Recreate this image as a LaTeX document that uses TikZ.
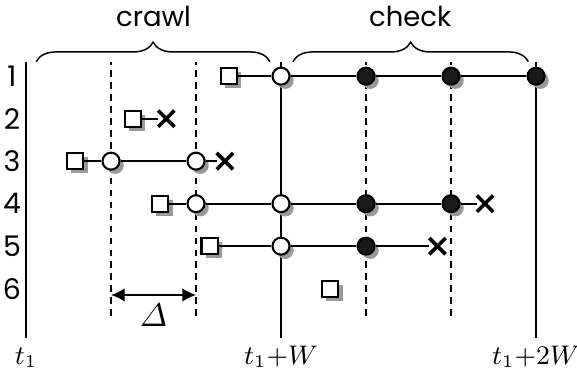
\documentclass[tikz,border=0pt]{standalone}
\usepackage{amsmath,amssymb}
\usepackage{fontspec}
\newfontfamily\gothic{Poppins}
\usepackage{tikz}
\usetikzlibrary{arrows.meta,shapes.misc,shadows,decorations.pathreplacing}

\tikzset{
  grey shadow/.style={drop shadow={shadow xshift=0.05cm,shadow yshift=-0.05cm,fill=black!40,opacity=1}},
  req/.style={draw,fill=white,minimum size=0.19cm,inner sep=0pt,grey shadow},
  open/.style={circle,draw,fill=white,minimum size=0.2cm,inner sep=0pt,grey shadow},
  hit/.style={circle,draw,fill=black!90,minimum size=0.2cm,inner sep=0pt,grey shadow},
  lost/.style={cross out,draw,minimum size=0.15cm,inner sep=0pt,line width=1.2pt},
  slot/.style={dash pattern=on 2.2pt off 1.8pt},
}

\begin{document}
\begin{tikzpicture}[line width=0.7pt]

\useasboundingbox (-0.306,-0.482) rectangle (6.482,3.976);

% time axes
\foreach \x/\lab in {0/{t_1},3/{t_1{+}W},6/{t_1{+}2W}} {
  \draw (\x,0) -- (\x,3.25);
  \node[anchor=base,font=\fontsize{8.8}{10}\selectfont] (t\x) at (\x,-0.31) {$\lab$};
}

% slot boundaries
\foreach \x in {1,2,4,5}
  \draw[slot] (\x,0.26) -- (\x,3.25);

% page numbers
\foreach \k in {1,...,6}
  \node[font=\gothic\fontsize{9.5}{11}\selectfont] (n\k) at (-0.165,{3.58-0.5*\k}) {\k};

% -------- phases --------
\draw[line width=0.5pt,decorate,decoration={brace,amplitude=0.23cm}] (0.12,3.25) -- (2.87,3.25);
\node[anchor=base,font=\gothic\fontsize{9.2}{11}\selectfont] (crawl) at (1.5,3.66) {crawl};
\draw[line width=0.5pt,decorate,decoration={brace,amplitude=0.23cm}] (3.14,3.25) -- (5.91,3.25);
\node[anchor=base,font=\gothic\fontsize{9.2}{11}\selectfont] (check) at (4.52,3.66) {check};

% -------- pages --------

% page 1
\node[req]  (p1)  at (2.39,3.08) {};
\node[open] (p1a) at (3,3.08) {};
\node[hit]  (p1b) at (4,3.08) {};
\node[hit]  (p1c) at (5,3.08) {};
\node[hit]  (p1d) at (6,3.08) {};
\draw (p1) -- (p1a) -- (p1b) -- (p1c) -- (p1d);

% page 2
\node[req]  (p2)  at (1.26,2.58) {};
\node[lost] (p2x) at (1.65,2.58) {};
\draw (p2) -- (p2x);

% page 3
\node[req]  (p3)  at (0.58,2.08) {};
\node[open] (p3a) at (1,2.08) {};
\node[open] (p3b) at (2,2.08) {};
\node[lost] (p3x) at (2.34,2.08) {};
\draw (p3) -- (p3a) -- (p3b) -- (p3x);

% page 4
\node[req]  (p4)  at (1.58,1.58) {};
\node[open] (p4a) at (2,1.58) {};
\node[open] (p4b) at (3,1.58) {};
\node[hit]  (p4c) at (4,1.58) {};
\node[hit]  (p4d) at (5,1.58) {};
\node[lost] (p4x) at (5.4,1.58) {};
\draw (p4) -- (p4a) -- (p4b) -- (p4c) -- (p4d) -- (p4x);

% page 5
\node[req]  (p5)  at (2.16,1.08) {};
\node[open] (p5a) at (3,1.08) {};
\node[hit]  (p5b) at (4,1.08) {};
\node[lost] (p5x) at (4.84,1.08) {};
\draw (p5) -- (p5a) -- (p5b) -- (p5x);

% page 6
\node[req]  (p6)  at (3.58,0.58) {};

% slot width
\coordinate (dl) at (1,0.506);
\coordinate (dr) at (2,0.506);
\draw[{Latex[length=0.16cm,width=0.16cm]}-{Latex[length=0.16cm,width=0.16cm]}] (dl) -- (dr);
\node[font=\fontsize{11}{13}\selectfont] (delta) at (1.5,0.27) {$\varDelta$};

\end{tikzpicture}
\end{document}
